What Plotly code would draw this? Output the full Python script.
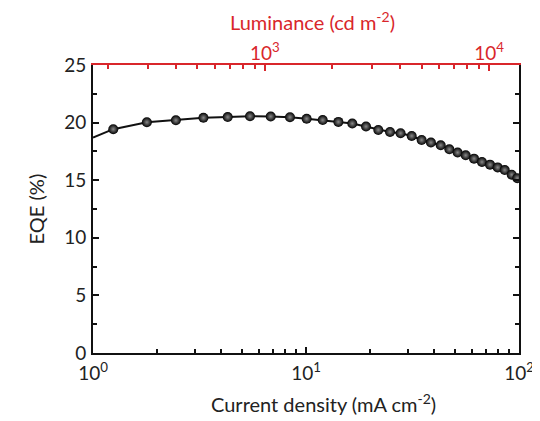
import plotly.graph_objects as go

# Data
current_density = [1.245, 1.79, 2.45, 3.30, 4.29, 5.46, 6.83, 8.41, 10.07,
                   11.98, 14.19, 16.49, 19.13, 21.85, 24.8, 27.8, 31.35, 34.9,
                   38.6, 42.9, 47.1, 51.5, 56.2, 61.5, 67.0, 73.1, 79.4, 85.7,
                   92.4, 98.2]
eqe = [19.43, 20.03, 20.2, 20.42, 20.48, 20.55, 20.53, 20.47, 20.33,
       20.22, 20.06, 19.92, 19.66, 19.36, 19.19, 19.08, 18.84, 18.49,
       18.27, 18.03, 17.68, 17.40, 17.16, 16.87, 16.58, 16.35, 16.11, 15.88,
       15.48, 15.18]

# connecting curve (extends to the axis edges)
line_j = [1.0] + current_density + [100.0]
line_eqe = [18.7] + eqe + [15.0]

lum_range = [171, 13600]
x_ticks = [1, 10, 100]
x_ticktext = ["10<sup>0</sup>", "10<sup>1</sup>", "10<sup>2</sup>"]
x_minor = [2, 3, 4, 5, 6, 7, 8, 9, 20, 30, 40, 50, 60, 70, 80, 90]
lum_ticks = [1000, 10000]
lum_ticktext = ["10<sup>3</sup>", "10<sup>4</sup>"]
lum_minor = [200, 300, 400, 500, 600, 700, 800, 900, 2000, 3000, 4000, 5000,
             6000, 7000, 8000, 9000]

RED = "#d9262b"
FONT = "Lato, 'Open Sans', sans-serif"

fig = go.Figure()
fig.add_trace(go.Scatter(x=line_j, y=line_eqe, mode="lines",
                         line=dict(color="#111", width=2),
                         showlegend=False, hoverinfo="skip"))
fig.add_trace(go.Scatter(x=current_density, y=eqe, mode="markers",
                         marker=dict(size=10, color="#000000",
                                     gradient=dict(type="radial", color="#8a8a8a"),
                                     line=dict(width=0)),
                         showlegend=False))
# helper trace to activate the luminance axis
fig.add_trace(go.Scatter(x=lum_range, y=[None, None], xaxis="x2", yaxis="y",
                         mode="markers", showlegend=False, hoverinfo="skip"))

# the page body adds an 8px offset, so the figure is 8px smaller
fig.update_layout(
    width=532, height=413,
    margin=dict(l=85, r=21, t=57, b=68),
    paper_bgcolor="white", plot_bgcolor="white",
    font=dict(family=FONT, size=18, color="#222"),
    xaxis=dict(type="log", range=[0, 2], showgrid=False, zeroline=False,
               automargin=False,
               showline=True, linecolor="#111", linewidth=2,
               ticks="inside", ticklen=6, tickwidth=2, tickcolor="#111",
               tickvals=x_ticks, ticktext=x_ticktext, ticklabelstandoff=2,
               minor=dict(tickmode="array", tickvals=x_minor, ticks="inside",
                          ticklen=4, tickwidth=2, tickcolor="#111", showgrid=False),
               tickfont=dict(size=19)),
    xaxis2=dict(type="log", overlaying="x", side="top", anchor="y",
                automargin=False,
                range=[2.2330, 4.1335], showgrid=False, zeroline=False,
                showline=True, linecolor=RED, linewidth=2,
                ticks="inside", ticklen=6, tickwidth=2, tickcolor=RED,
                tickvals=lum_ticks, ticktext=lum_ticktext, ticklabelstandoff=-5,
                tickfont=dict(color=RED, size=19),
                minor=dict(tickmode="array", tickvals=lum_minor, ticks="inside",
                           ticklen=4, tickwidth=2, tickcolor=RED, showgrid=False)),
    yaxis=dict(range=[0, 25], dtick=5, showgrid=False, zeroline=False,
               automargin=False,
               showline=True, linecolor="#111", linewidth=2, mirror="ticks",
               ticks="inside", ticklen=6, tickwidth=2, tickcolor="#111",
               ticklabelstandoff=1,
               minor=dict(dtick=2.5, ticks="inside", ticklen=4, tickwidth=2,
                          tickcolor="#111", showgrid=False),
               tickfont=dict(size=19)),
    annotations=[
        dict(text="Current density (mA cm<sup>-2</sup>)", xref="paper", yref="paper",
             x=0.54, y=-0.12, xanchor="center", yanchor="top", showarrow=False,
             font=dict(size=20, color="#222")),
        dict(text="Luminance (cd m<sup>-2</sup>)", xref="paper", yref="paper",
             x=0.515, y=1.10, xanchor="center", yanchor="bottom", showarrow=False,
             font=dict(size=20, color=RED)),
        dict(text="EQE (%)", xref="paper", yref="paper", textangle=-90,
             x=-0.10, y=0.5, xanchor="right", yanchor="middle", showarrow=False,
             font=dict(size=20, color="#222")),
    ],
)

fig.write_html("out.html")
